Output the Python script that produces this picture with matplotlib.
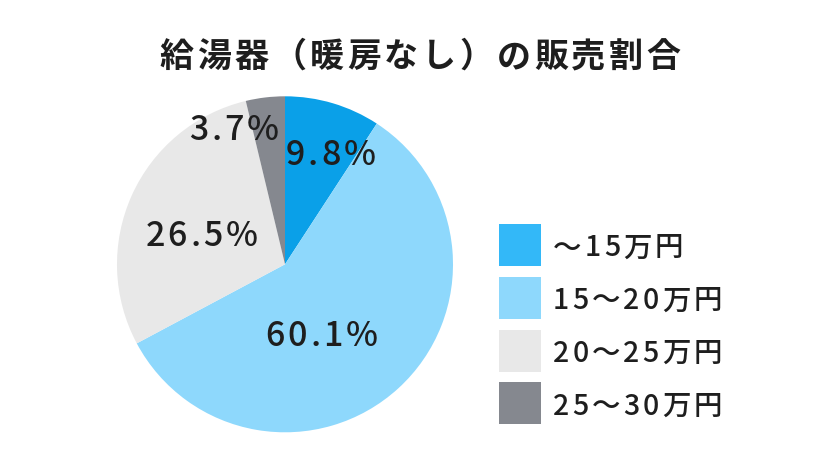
import matplotlib
matplotlib.use("Agg")
import matplotlib.pyplot as plt
from matplotlib import font_manager
from matplotlib.font_manager import FontProperties
from matplotlib.ft2font import FT2Font
from matplotlib.patches import Rectangle

FAMILY = 'Noto Sans CJK JP'
plt.rcParams['font.family'] = [FAMILY, 'DejaVu Sans']

# data
categories = ['〜15万円', '15〜20万円', '20〜25万円', '25〜30万円']
label_values = [9.8, 60.1, 26.5, 3.7]          # printed on the slices
slice_values = [9.2, 58.0, 29.05, 3.75]        # wedge sizes as drawn in the picture
slice_colors = ['#0aa0e8', '#8ed8fc', '#e8e8e8', '#85888f']
legend_colors = ['#33b8f8', '#8ed8fc', '#e8e8e8', '#85888f']
# label anchors inside the pie (unit radius, baseline centre)
label_pos = [(0.271, 0.591), (0.217, -0.486), (-0.497, 0.109), (-0.304, 0.740)]

title = '給湯器（暖房なし）の販売割合'
text_color = '#1e1e1e'

W, H = 838, 466
fig = plt.figure(figsize=(W / 100, H / 100), dpi=100)


def char_advances(s, size, weight):
    f = FT2Font(font_manager.findfont(FontProperties(family=FAMILY, weight=weight)))
    f.set_size(size, 100)
    return [f.load_char(ord(c)).linearHoriAdvance / 65536 for c in s]


def spaced_text(x, y, s, size, weight='medium', track=0.1, ha='center'):
    # x, y: figure pixels from bottom-left, y is the baseline
    adv = char_advances(s, size, weight)
    gap = track * size * 100 / 72
    total = sum(adv) + gap * (len(s) - 1)
    pen = x - total / 2 if ha == 'center' else x
    for c, a in zip(s, adv):
        fig.text(pen / W, y / H, c, ha='left', va='baseline', fontsize=size,
                 fontweight=weight, color=text_color)
        pen += a + gap


# pie
cx, cy, r = 285, 264.3, 168
ax = fig.add_axes([(cx - r) / W, (H - cy - r) / H, 2 * r / W, 2 * r / H])
ax.pie(slice_values, colors=slice_colors, startangle=90, counterclock=False,
       radius=1.0, wedgeprops=dict(linewidth=0))
ax.set_xlim(-1, 1)
ax.set_ylim(-1, 1)
ax.set_aspect('equal')
ax.axis('off')

for v, (x, y) in zip(label_values, label_pos):
    px, py = ax.transData.transform((x, y))
    spaced_text(px, py, f'{v}%', 24.5, track=0.09)

# title
spaced_text(420, H - 67, title, 24.5, weight='bold', track=0.1)

# legend
sq = 42
pitch = 52.8
for i, (lab, c) in enumerate(zip(categories, legend_colors)):
    top = 224 + i * pitch
    fig.patches.append(Rectangle((499 / W, (H - top - sq) / H), sq / W, sq / H,
                                 transform=fig.transFigure, facecolor=c,
                                 edgecolor='none'))
    spaced_text(553, H - (top + 32.5), lab, 20.5, track=0.11, ha='left')

fig.savefig('out.png', dpi=100)
